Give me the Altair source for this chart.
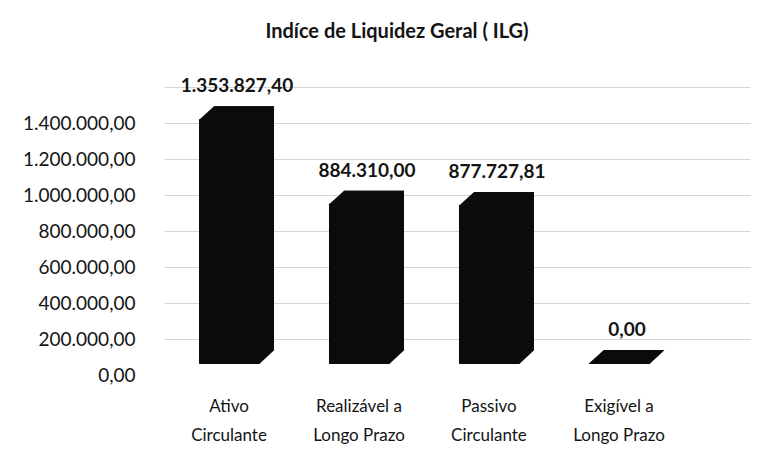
import json
import altair as alt
import pandas as pd

categories = ["Ativo Circulante", "Realizável a Longo Prazo", "Passivo Circulante", "Exigível a Longo Prazo"]
label_line1 = ["Ativo", "Realizável a", "Passivo", "Exigível a"]
label_line2 = ["Circulante", "Longo Prazo", "Circulante", "Longo Prazo"]
values = [1353827.40, 884310.00, 877727.81, 0.00]
y_ticks = [0, 200000, 400000, 600000, 800000, 1000000, 1200000, 1400000, 1600000]
title_text = "Indíce de Liquidez Geral ( ILG)"


def br(v):
    s = f"{v:,.2f}"
    return s.replace(",", "#").replace(".", ",").replace("#", ".")


df = pd.DataFrame({
    "categoria": categories,
    "valor": values,
    "rotulo": [br(v) for v in values],
})

x_map = {c: [a, b] for c, a, b in zip(categories, label_line1, label_line2)}
x_expr = "(" + json.dumps(x_map, ensure_ascii=False) + ")[datum.label]"
y_map = {str(int(t)): (br(t) if t < 1600000 else "") for t in y_ticks}
y_expr = "(" + json.dumps(y_map, ensure_ascii=False) + ")['' + datum.value]"

FONT = "Lato"
INK = "#141414"
BAR = "#0b0b0b"

x = alt.X(
    "categoria:N", sort=categories, title=None,
    scale=alt.Scale(paddingInner=0, paddingOuter=0.254, align=0),
    axis=alt.Axis(labelAngle=0, labelExpr=x_expr, labelFont=FONT, labelFontSize=17,
                  labelColor=INK, labelPadding=23, labelLineHeight=29, labelBaseline="top",
                  ticks=False, domain=False, grid=False, labelOverlap=False),
)


def ydef(field):
    return alt.Y(
        field, title=None,
        scale=alt.Scale(domain=[0, 1600000], nice=False, zero=True),
        axis=alt.Axis(values=y_ticks, labelExpr=y_expr, labelFont=FONT, labelFontSize=19,
                      labelColor=INK, labelPadding=29, ticks=False, domain=False, grid=True,
                      gridColor={"condition": {"test": "datum.value === 0", "value": "transparent"},
                                 "value": "#d6d6d6"},
                      gridWidth=1, minExtent=151, maxExtent=151, labelOverlap=False),
    )


face_path = "M -1.01 0.2 L 0.61 0.2 L 1.01 -0.1733 L -0.6 -0.1733 Z"

base = alt.Chart(df).transform_calculate(base0="0")

back = base.mark_bar(size=60, color=BAR, xOffset=15, x2Offset=15, yOffset=-25, y2Offset=-25).encode(
    x=x, y=ydef("valor:Q"))
front = base.mark_bar(size=60, color=BAR, yOffset=-12, y2Offset=-12).encode(
    x=x, y=ydef("valor:Q"))
top_face = base.mark_point(shape=face_path, size=5625, filled=True, color=BAR, opacity=1,
                           strokeWidth=0, xOffset=7.5, yOffset=-18.5).encode(
    x=x, y=ydef("valor:Q"))
bottom_face = base.mark_point(shape=face_path, size=5625, filled=True, color=BAR, opacity=1,
                              strokeWidth=0, xOffset=7.5, yOffset=-18.5).encode(
    x=x, y=ydef("base0:Q"))
labels = base.mark_text(font=FONT, fontWeight="bold", fontSize=19, color=INK,
                        dx=8, dy=-45, baseline="middle").encode(
    x=x, y=ydef("valor:Q"), text="rotulo:N")

chart = alt.layer(back, front, top_face, bottom_face, labels).properties(
    width=586, height=288,
    title=alt.TitleParams(title_text, font=FONT, fontSize=20, fontWeight="bold", color=INK,
                          offset=35, dx=-60, anchor="middle"),
    padding={"left": 5, "top": 14, "right": 5, "bottom": 5},
    background="white",
).configure_view(stroke=None)

chart.save("out.html", embed_options={"renderer": "svg", "actions": False})
